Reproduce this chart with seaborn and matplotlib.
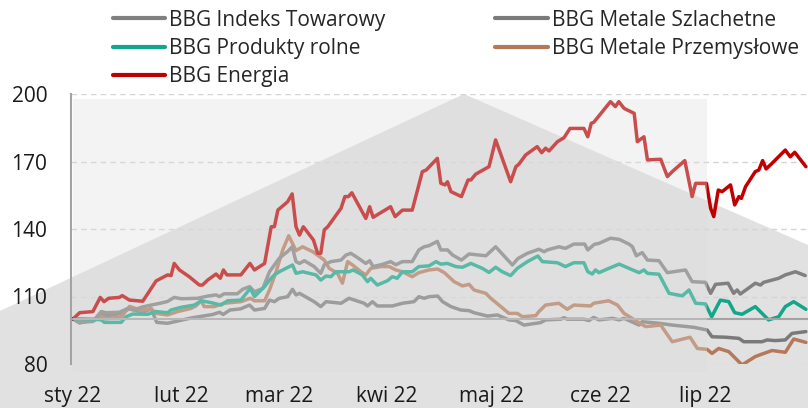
import pandas as pd
import numpy as np
import matplotlib
matplotlib.use("Agg")
import matplotlib.pyplot as plt
from matplotlib.patches import Polygon, Rectangle
import seaborn as sns

# days counted from 2022-01-01, values indexed to 100
start = pd.Timestamp("2022-01-01")

energia_days = [0, 1.9, 5.7, 7.8, 8.9, 10.2, 13.3, 14.1, 16.2, 20.0,
                23.8, 27.1, 28.1, 29.0, 30.5, 33.3, 36.2, 37.1, 38.6, 41.0,
                42.2, 43.1, 44.1, 48.1, 50.7, 52.0, 54.9, 56.8, 57.7, 58.7,
                61.5, 62.8, 63.9, 64.9, 66.0, 68.9, 70.1, 71.0, 72.0, 73.0,
                76.8, 77.9, 78.9, 79.9, 83.9, 85.0, 86.0, 91.0, 92.3, 94.4,
                97.2, 100.1, 101.2, 104.4, 105.4, 106.6, 107.3, 108.3, 111.3, 113.2,
                114.0, 115.4, 119.2, 121.1, 125.4, 126.9, 127.8, 129.7, 133.0, 134.3,
                135.4, 136.4, 138.8, 140.7, 142.4, 146.4, 147.5, 148.5, 149.2, 154.0,
                155.4, 156.4, 157.9, 160.8, 161.7, 163.6, 164.6, 168.4, 170.3, 171.7,
                175.3, 177.4, 178.4, 181.5, 182.7, 183.6, 184.9, 186.0, 188.4, 189.6,
                190.8, 191.5, 192.7, 195.5, 196.5, 197.6, 198.6, 200.3, 204.1, 205.5,
                206.8, 210.0]
energia = [100, 102.8, 103.3, 109.6, 107.7, 109.2, 109.6, 110.4, 108.4, 107.9,
           116.9, 119.6, 119.3, 124.7, 121.8, 118.8, 115.1, 115.1, 117.3, 120.0,
           118.1, 121.8, 119.6, 119.6, 124.7, 121.8, 124.7, 141.0, 141.0, 148.4,
           152.1, 155.6, 141.0, 137.3, 141.0, 135.1, 129.2, 129.2, 139.6, 141.0,
           149.2, 154.4, 154.4, 156.1, 144.7, 149.9, 145.2, 149.9, 145.5, 148.4,
           148.4, 165.5, 166.2, 171.4, 160.3, 159.6, 161.0, 156.6, 154.4, 161.8,
           161.8, 164.4, 167.7, 179.6, 161.0, 167.7, 168.9, 172.9, 176.6, 173.9,
           175.9, 174.7, 178.8, 180.6, 184.7, 184.7, 181.0, 187.0, 187.4, 196.6,
           194.4, 196.6, 193.6, 191.4, 178.8, 181.0, 170.7, 171.0, 163.3, 165.5,
           170.4, 154.4, 160.3, 160.3, 149.2, 145.5, 157.3, 156.6, 159.6, 150.7,
           154.4, 153.6, 158.8, 165.5, 166.2, 170.4, 166.7, 169.2, 175.1, 172.1,
           174.1, 167.7]

towarowy_days = [0, 1.9, 3.8, 5.7, 8.1, 9.5, 13.3, 15.7, 17.6, 19.5,
                 22.4, 25.0, 27.1, 29.0, 31.0, 35.7, 38.6, 41.0, 42.0, 43.3,
                 47.1, 48.6, 50.6, 52.0, 54.4, 56.3, 59.1, 61.5, 62.8, 63.9,
                 64.9, 66.3, 69.1, 71.0, 72.0, 73.9, 76.8, 78.2, 79.6, 81.5,
                 83.9, 85.0, 86.0, 88.7, 91.0, 92.5, 94.4, 97.2, 99.1, 100.6,
                 102.0, 104.4, 105.4, 107.3, 108.8, 111.3, 113.5, 118.3, 121.1, 125.9,
                 127.5, 130.2, 133.5, 135.0, 135.9, 139.2, 141.1, 143.5, 146.6, 147.5,
                 149.4, 150.7, 154.0, 156.5, 159.3, 160.3, 161.4, 163.1, 164.6, 167.9,
                 170.3, 175.5, 177.4, 181.2, 182.7, 184.1, 187.7, 189.3, 190.3, 191.2,
                 195.5, 197.0, 197.9, 202.2, 204.1, 207.0, 209.8]
towarowy = [100, 98.2, 98.9, 98.9, 103.3, 102.8, 103.0, 104.7, 104.0, 105.2,
            106.2, 107.0, 107.8, 109.6, 109.0, 109.2, 110.2, 110.7, 110.0, 111.2,
            111.2, 113.2, 114.4, 112.1, 113.6, 121.0, 127.0, 130.0, 132.1, 125.5,
            124.7, 125.9, 123.3, 120.3, 124.1, 125.5, 126.2, 128.4, 129.2, 127.3,
            124.7, 125.9, 123.3, 124.3, 125.5, 124.1, 125.5, 125.5, 130.7, 132.1,
            132.6, 134.5, 130.7, 130.7, 128.4, 126.2, 128.9, 128.1, 132.1, 124.0,
            126.9, 129.2, 131.0, 129.9, 130.7, 132.1, 131.4, 133.3, 133.3, 130.7,
            133.2, 133.6, 135.9, 135.4, 133.3, 132.1, 128.1, 129.5, 126.2, 125.9,
            120.6, 121.8, 116.6, 116.3, 111.4, 115.4, 115.9, 111.4, 112.9, 111.1,
            115.9, 115.1, 116.3, 118.1, 119.6, 121.0, 119.3]

rolne_days = [0, 2.4, 6.2, 8.1, 9.0, 13.8, 15.2, 17.1, 21.4, 23.8,
              27.1, 28.1, 31.0, 34.8, 36.7, 39.5, 42.4, 44.3, 48.1, 49.5,
              50.8, 52.0, 54.9, 56.3, 57.7, 59.1, 62.9, 63.9, 65.8, 69.6,
              71.0, 72.5, 73.9, 75.3, 79.1, 80.3, 82.9, 84.4, 85.3, 87.2,
              90.1, 91.5, 92.9, 94.4, 97.2, 99.1, 102.0, 104.0, 105.4, 107.3,
              109.7, 111.6, 114.0, 117.3, 119.2, 121.1, 123.0, 125.4, 127.3, 130.2,
              133.2, 134.5, 138.8, 141.1, 143.5, 146.4, 147.5, 148.8, 149.7, 150.7,
              154.0, 156.5, 159.3, 162.2, 163.6, 164.6, 167.9, 170.8, 174.6, 176.5,
              178.4, 181.2, 183.0, 185.5, 187.9, 189.6, 191.7, 195.5, 199.3, 202.2,
              204.1, 206.5, 210.0]
rolne = [100, 100.1, 99.9, 99.6, 98.5, 98.5, 101.0, 102.2, 102.1, 103.3,
         102.8, 104.0, 105.2, 106.2, 108.1, 107.3, 106.2, 108.1, 108.4, 111.1,
         113.6, 110.0, 114.4, 117.3, 119.6, 121.0, 124.0, 120.3, 121.0, 119.6,
         117.3, 119.1, 118.8, 121.0, 121.0, 121.8, 119.6, 116.6, 118.1, 115.1,
         117.0, 118.8, 118.1, 121.0, 121.0, 123.3, 123.6, 125.5, 124.4, 124.7,
         123.3, 123.0, 124.7, 122.5, 120.7, 123.0, 121.0, 119.3, 122.5, 125.5,
         128.0, 125.5, 125.0, 123.3, 125.0, 125.0, 121.0, 120.0, 121.8, 120.6,
         122.8, 124.4, 122.5, 120.6, 121.8, 120.3, 119.9, 111.4, 110.3, 112.9,
         107.0, 106.7, 101.0, 108.4, 107.7, 102.8, 102.1, 105.5, 99.6, 101.0,
         105.5, 107.7, 104.3]

szlachetne_days = [0, 1.9, 5.7, 8.1, 10.0, 14.0, 16.0, 20.0, 22.4, 24.0,
                   27.1, 30.0, 34.0, 38.0, 40.0, 42.0, 43.0, 45.0, 48.0, 50.6,
                   52.0, 54.9, 56.3, 57.7, 59.1, 61.5, 62.9, 63.9, 64.9, 69.1,
                   71.0, 72.5, 76.8, 79.1, 83.4, 84.4, 85.8, 87.2, 91.5, 94.4,
                   97.7, 99.1, 100.6, 102.0, 104.5, 105.9, 108.3, 111.1, 113.5, 114.9,
                   118.8, 121.6, 124.9, 126.9, 129.2, 134.0, 135.4, 139.7, 140.7, 141.6,
                   146.4, 147.8, 149.2, 150.7, 154.6, 156.5, 157.9, 162.2, 163.1, 167.9,
                   171.7, 177.9, 181.7, 183.1, 187.0, 190.8, 192.2, 197.4, 198.9, 201.2,
                   204.1, 206.0, 210.0]
szlachetne = [100, 98.5, 99.0, 102.0, 101.5, 102.5, 104.5, 103.0, 104.5, 98.5,
              98.1, 99.1, 100.5, 101.5, 102.0, 103.0, 102.0, 104.0, 104.5, 106.2,
              104.0, 104.7, 108.4, 107.7, 109.2, 109.9, 113.2, 110.7, 111.4, 107.7,
              105.5, 107.7, 107.0, 109.2, 107.0, 105.8, 107.7, 105.8, 105.8, 107.0,
              107.7, 109.9, 109.2, 109.9, 110.2, 107.7, 105.5, 104.0, 103.7, 102.8,
              101.3, 101.8, 99.6, 99.3, 97.3, 98.4, 99.6, 99.9, 100.6, 99.9,
              99.9, 99.3, 100.7, 99.6, 100.3, 99.6, 100.3, 97.3, 98.8, 98.1,
              97.3, 96.3, 95.1, 92.1, 91.9, 91.4, 89.9, 89.9, 90.7, 90.4,
              90.7, 93.6, 94.4]

przemyslowe_days = [0, 2.4, 6.2, 8.1, 9.5, 13.8, 16.2, 19.5, 22.4, 23.8,
                    27.1, 30.0, 33.8, 35.2, 36.7, 37.6, 40.5, 43.3, 48.1, 50.8,
                    52.0, 54.9, 56.3, 58.2, 60.1, 61.8, 63.9, 65.8, 68.7, 72.0,
                    73.4, 75.8, 77.2, 78.7, 80.1, 82.5, 83.9, 85.3, 88.2, 90.6,
                    92.5, 94.4, 97.2, 99.1, 102.0, 104.5, 106.4, 109.2, 111.6, 113.5,
                    114.9, 118.3, 119.7, 122.6, 124.9, 127.3, 128.8, 132.6, 133.5, 135.4,
                    139.2, 141.6, 143.5, 148.3, 149.2, 153.5, 156.0, 157.9, 161.7, 164.1,
                    168.4, 171.7, 176.8, 178.9, 181.7, 183.1, 185.0, 187.9, 191.7, 195.5,
                    197.4, 200.3, 204.1, 206.5, 210.0]
przemyslowe = [100, 99.4, 99.4, 101.2, 100.1, 100.9, 105.6, 103.9, 104.6, 102.5,
               101.8, 103.3, 104.7, 105.8, 108.1, 105.5, 105.5, 107.0, 107.7, 109.2,
               108.1, 108.1, 112.9, 121.0, 130.7, 137.0, 130.4, 132.1, 129.9, 126.2,
               122.5, 120.3, 115.9, 125.5, 124.0, 121.0, 119.6, 122.5, 123.3, 123.3,
               121.8, 121.0, 118.8, 120.6, 121.8, 122.2, 120.6, 116.6, 114.7, 115.4,
               112.9, 111.4, 109.2, 105.5, 102.5, 102.5, 101.0, 101.5, 103.3, 106.2,
               107.0, 104.3, 106.2, 105.8, 107.0, 108.1, 106.2, 102.5, 98.8, 96.6,
               97.3, 89.9, 91.9, 86.9, 86.5, 84.7, 86.9, 85.5, 79.6, 83.3,
               84.4, 86.0, 85.2, 91.1, 89.6]

month_ticks = ["2022-01-01", "2022-02-01", "2022-03-01", "2022-04-01",
               "2022-05-01", "2022-06-01", "2022-07-01"]
month_labels = ["sty 22", "lut 22", "mar 22", "kwi 22", "maj 22", "cze 22", "lip 22"]

series = [
    ("BBG Metale Szlachetne", szlachetne_days, szlachetne, "#7a7a7a"),
    ("BBG Metale Przemysłowe", przemyslowe_days, przemyslowe, "#b5795a"),
    ("BBG Indeks Towarowy", towarowy_days, towarowy, "#808080"),
    ("BBG Produkty rolne", rolne_days, rolne, "#12a68a"),
    ("BBG Energia", energia_days, energia, "#c00000"),
]

sns.set_style("white")
plt.rcParams["font.family"] = ["Open Sans", "DejaVu Sans"]
plt.rcParams["font.size"] = 15

W, H = 808, 408
fig = plt.figure(figsize=(W / 100, H / 100), dpi=100)
ax = fig.add_axes([71 / W, 44 / H, (W - 71) / W, 270 / H])
ax.patch.set_alpha(0)

# grey watermark shape behind the plot
roof = [(0, 311), (464, 94), (808, 245), (808, 408), (0, 408)]
fig.add_artist(Polygon([(x / W, 1 - y / H) for x, y in roof], closed=True,
                       transform=fig.transFigure, facecolor="#e1e1e1",
                       edgecolor="none", zorder=-1))

for name, days, vals, col in series:
    d = pd.DataFrame({"date": start + pd.to_timedelta(days, unit="D"), "value": vals})
    sns.lineplot(data=d, x="date", y="value", color=col, linewidth=2.5,
                 label=name, legend=False, ax=ax)

ax.set_ylim(80, 200)
ax.set_xlim(start - pd.Timedelta(days=0.57), start + pd.Timedelta(days=210.6))
ax.set_yticks([80, 110, 140, 170, 200])
ax.set_xticks(pd.to_datetime(month_ticks))
ax.set_xticklabels(month_labels)
ax.set_xlabel("")
ax.set_ylabel("")

ax.yaxis.grid(True, linestyle=(0, (4, 3)), color="#d4d4d4", linewidth=1)
ax.xaxis.grid(False)
for s in ["top", "right"]:
    ax.spines[s].set_visible(False)
ax.spines["bottom"].set_position(("data", 100))
for s in ["bottom", "left"]:
    ax.spines[s].set_color("#a3a3a3")
    ax.spines[s].set_linewidth(1.5)
ax.tick_params(axis="y", length=6, width=1.5, color="#a3a3a3", pad=11,
               labelsize=15, labelcolor="#1a1a1a")
ax.tick_params(axis="x", length=5, width=1.5, color="#a3a3a3", pad=43,
               labelsize=15, labelcolor="#1a1a1a")

# translucent panel over the first half year
fig.add_artist(Rectangle((73 / W, 1 - 372 / H), (707 - 73) / W, (372 - 99) / H,
                         transform=fig.transFigure, facecolor="#dedede",
                         edgecolor="none", alpha=0.35, zorder=5))

handles, labels = ax.get_legend_handles_labels()
lookup = dict(zip(labels, handles))
order = ["BBG Indeks Towarowy", "BBG Produkty rolne", "BBG Energia",
         "BBG Metale Szlachetne", "BBG Metale Przemysłowe"]
leg = fig.legend([lookup[k] for k in order], order, loc="upper left",
                 bbox_to_anchor=(98 / W, 1.012), ncol=2, frameon=False,
                 fontsize=15, handlelength=2.5, handletextpad=0.2,
                 columnspacing=5.3, labelspacing=0.35, borderaxespad=0.3)
for line in leg.get_lines():
    line.set_linewidth(3)

fig.savefig("out.png", dpi=100)
